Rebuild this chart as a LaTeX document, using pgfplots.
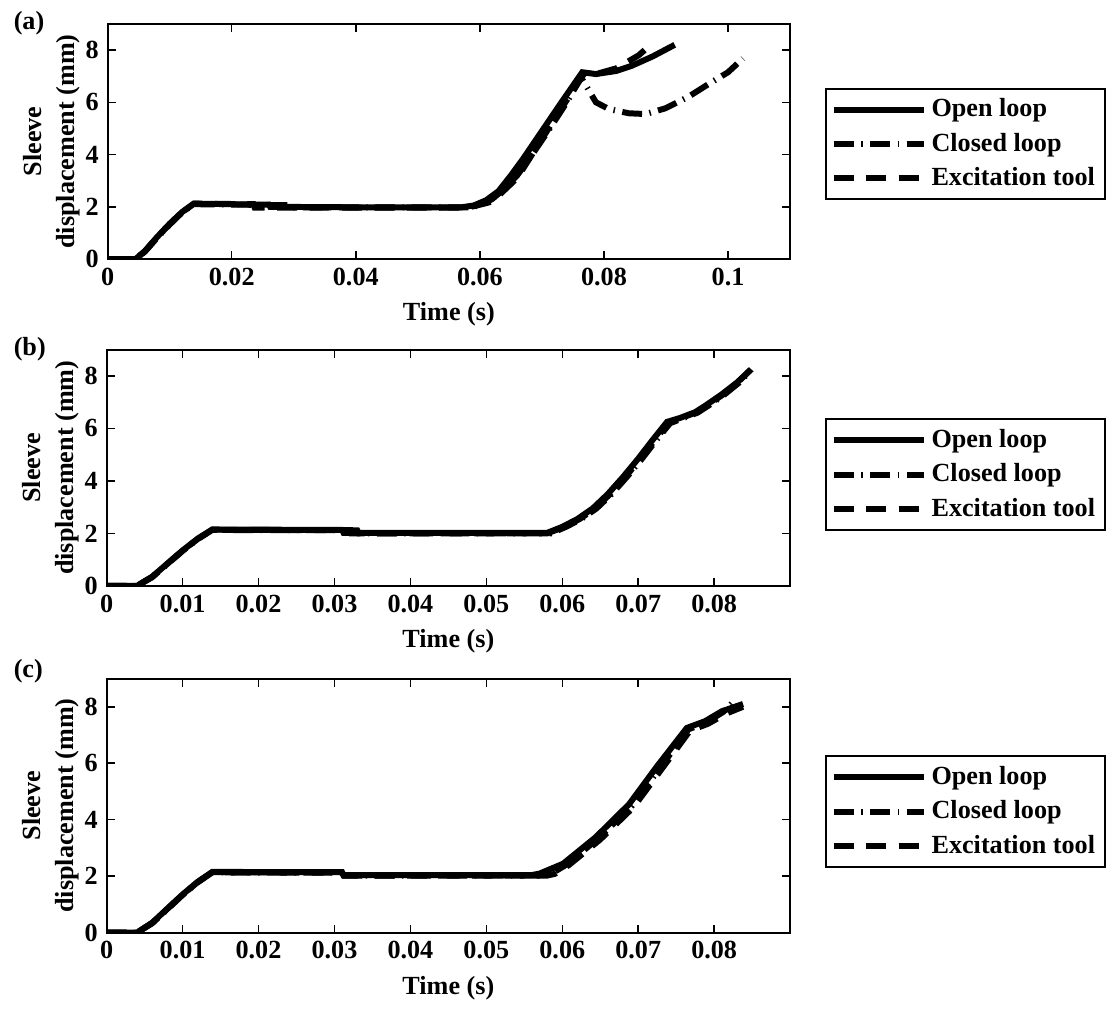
\documentclass[border=0pt]{standalone}
\usepackage{fontspec}
\setmainfont{Liberation Serif}
\usepackage{pgfplots}
\pgfplotsset{compat=1.18}

\newcommand{\fnt}{\fontsize{10.5}{12}\selectfont\bfseries}

\pgfplotsset{
  panel/.style={
    scale only axis,
    xmin=0, ymin=0, ymax=9,
    ytick={0,2,4,6,8},
    axis line style={line width=0.8pt},
    every tick/.style={black, line width=0.6pt},
    major tick length=3.2pt,
    tick align=inside,
    scaled x ticks=false,
    xticklabel style={/pgf/number format/fixed, /pgf/number format/precision=2},
    /pgf/number format/assume math mode=true,
    tick label style={font=\fnt},
    label style={font=\fnt},
    xlabel={Time (s)},
    ylabel={Sleeve\\displacement (mm)},
    ylabel style={align=center, font=\fontsize{10.5}{13.2}\selectfont\bfseries, yshift=-4.4pt},
    legend cell align=left,
    legend style={draw=black, line width=0.8pt, font=\fnt, anchor=north west,
      inner sep=2pt, row sep=1pt},
    legend image code/.code={\draw[#1] (0pt,0pt) -- (36pt,0pt);},
  },
  ol/.style={black, line width=2.4pt, solid},
  cl/.style={black, line width=2.4pt, dash pattern=on 8pt off 3pt on 0.6pt off 3pt},
  et/.style={black, line width=2.4pt, dash pattern=on 8pt off 5pt},
}

\begin{document}
\begin{tikzpicture}
\path (0pt,0pt) rectangle (442.4pt,-403.2pt);

% ---------------- (a)
\node[anchor=north west, font=\fnt] at (2pt,-1pt) {(a)};
\begin{axis}[panel, at={(43.2pt,-104pt)}, anchor=south west,
  width=274pt, height=94.4pt, xmax=0.11,
  xtick={0,0.02,0.04,0.06,0.08,0.1},
  legend style={at={(1.051,0.729)}}]
\addplot[ol] coordinates {
 (0,0) (0.0045,0) (0.006,0.3) (0.008,0.85) (0.010,1.35) (0.012,1.8) (0.0139,2.12)
 (0.020,2.1) (0.026,2.08) (0.0262,2.0) (0.040,1.98) (0.057,1.98) (0.059,2.05)
 (0.061,2.25) (0.063,2.6) (0.065,3.2) (0.067,3.85) (0.070,4.9) (0.073,5.95)
 (0.0765,7.15) (0.0787,7.08) (0.082,7.2) (0.0845,7.4) (0.0878,7.75) (0.0914,8.2)};
\addlegendentry{Open loop}
\addplot[cl] coordinates {
 (0,0) (0.0045,0) (0.006,0.28) (0.008,0.82) (0.010,1.32) (0.012,1.78) (0.0139,2.1)
 (0.030,2.06) (0.0302,1.98) (0.058,1.98) (0.060,2.05) (0.062,2.3) (0.064,2.7)
 (0.066,3.2) (0.068,3.85) (0.071,4.9) (0.074,6.0) (0.0763,6.95) (0.0772,6.6)
 (0.0787,6.0) (0.0808,5.74) (0.084,5.58) (0.0867,5.55) (0.0899,5.77)
 (0.0936,6.21) (0.0974,6.78) (0.100,7.15) (0.1024,7.68)};
\addlegendentry{Closed loop}
\addplot[et] coordinates {
 (0,0) (0.0045,0) (0.006,0.3) (0.008,0.84) (0.010,1.34) (0.012,1.79) (0.0139,2.12)
 (0.0235,2.1) (0.0237,1.97) (0.058,1.97) (0.0595,2.05) (0.062,2.2) (0.066,3.1)
 (0.070,4.6) (0.0735,5.9) (0.0768,7.1) (0.079,7.1) (0.082,7.3) (0.0856,7.8)
 (0.088,8.3)};
\addlegendentry{Excitation tool}
\end{axis}

% ---------------- (b)
\node[anchor=north west, font=\fnt] at (2pt,-132pt) {(b)};
\begin{axis}[panel, at={(42.8pt,-235.2pt)}, anchor=south west,
  width=274.4pt, height=94.8pt, xmax=0.09,
  xtick={0,0.01,0.02,0.03,0.04,0.05,0.06,0.07,0.08},
  legend style={at={(1.051,0.709)}}]
\addplot[ol] coordinates {
 (0,0) (0.004,0) (0.006,0.35) (0.008,0.85) (0.010,1.35) (0.012,1.8) (0.0139,2.15)
 (0.031,2.13) (0.0312,2.02) (0.058,2.02) (0.060,2.25) (0.062,2.55) (0.064,2.95)
 (0.066,3.5) (0.068,4.15) (0.070,4.85) (0.072,5.6) (0.0738,6.25) (0.0755,6.4)
 (0.0775,6.62) (0.079,6.9) (0.081,7.3) (0.083,7.75) (0.0847,8.2)};
\addlegendentry{Open loop}
\addplot[cl] coordinates {
 (0,0) (0.004,0) (0.006,0.33) (0.008,0.83) (0.010,1.33) (0.012,1.78) (0.0139,2.13)
 (0.033,2.12) (0.0332,2.0) (0.0585,2.0) (0.0605,2.25) (0.0625,2.55) (0.0645,2.95)
 (0.0665,3.5) (0.0685,4.15) (0.0705,4.85) (0.0725,5.6) (0.0742,6.2) (0.0758,6.38)
 (0.0778,6.6) (0.0793,6.88) (0.0813,7.28) (0.0833,7.75) (0.0849,8.25)};
\addlegendentry{Closed loop}
\addplot[et] coordinates {
 (0,0) (0.004,0) (0.006,0.34) (0.008,0.84) (0.010,1.34) (0.012,1.79) (0.0139,2.14)
 (0.032,2.12) (0.0322,2.0) (0.058,2.0) (0.0603,2.25) (0.0623,2.55) (0.0643,2.95)
 (0.0663,3.5) (0.0683,4.15) (0.0703,4.85) (0.0723,5.6) (0.074,6.22) (0.0757,6.4)
 (0.0777,6.62) (0.0792,6.9) (0.0812,7.3) (0.0832,7.78) (0.0848,8.25)};
\addlegendentry{Excitation tool}
\end{axis}

% ---------------- (c)
\node[anchor=north west, font=\fnt] at (2pt,-261pt) {(c)};
\begin{axis}[panel, at={(42.8pt,-374.4pt)}, anchor=south west,
  width=274.4pt, height=102pt, xmax=0.09,
  xtick={0,0.01,0.02,0.03,0.04,0.05,0.06,0.07,0.08},
  legend style={at={(1.051,0.698)}}]
\addplot[ol] coordinates {
 (0,0) (0.004,0) (0.006,0.35) (0.008,0.85) (0.010,1.35) (0.012,1.8) (0.0139,2.15)
 (0.031,2.14) (0.0312,2.04) (0.056,2.04) (0.057,2.09) (0.0601,2.44) (0.0644,3.38)
 (0.0688,4.55) (0.0725,5.9) (0.0764,7.25) (0.0788,7.49) (0.081,7.84)
 (0.0838,8.1)};
\addlegendentry{Open loop}
\addplot[cl] coordinates {
 (0,0) (0.004,0) (0.006,0.33) (0.008,0.83) (0.010,1.33) (0.012,1.78) (0.0139,2.13)
 (0.031,2.12) (0.0312,2.02) (0.0575,2.02) (0.0585,2.08) (0.0605,2.4) (0.0648,3.35)
 (0.0692,4.5) (0.0729,5.85) (0.0766,7.2) (0.079,7.45) (0.0812,7.82)
 (0.083,8.3)};
\addlegendentry{Closed loop}
\addplot[et] coordinates {
 (0,0) (0.004,0) (0.006,0.34) (0.008,0.84) (0.010,1.34) (0.012,1.79) (0.0139,2.14)
 (0.0305,2.12) (0.0307,2.02) (0.058,2.02) (0.059,2.08) (0.0608,2.38) (0.065,3.3)
 (0.0694,4.45) (0.0731,5.8) (0.0768,7.15) (0.0792,7.4) (0.0815,7.75)
 (0.0838,8.0)};
\addlegendentry{Excitation tool}
\end{axis}
\end{tikzpicture}
\end{document}
